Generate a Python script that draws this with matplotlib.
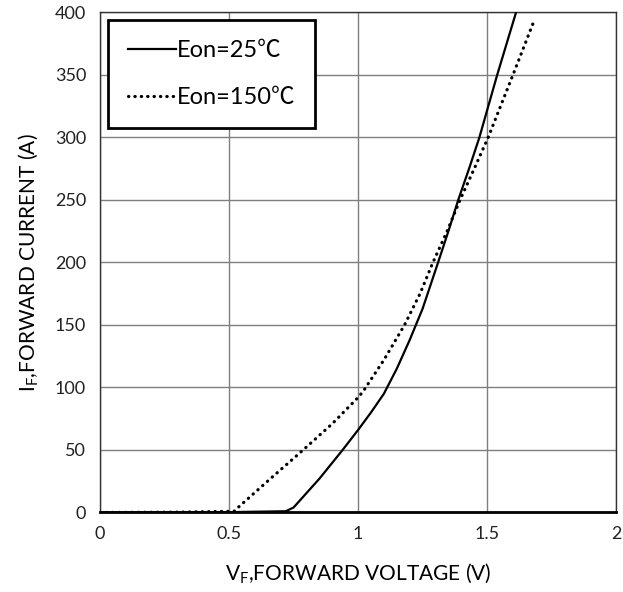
import matplotlib.pyplot as plt

# Eon=25℃ (solid)
v_25 = [0.0, 0.5, 0.72, 0.75, 0.85, 0.94, 1.0, 1.05, 1.10, 1.15, 1.20, 1.25, 1.31, 1.35, 1.388, 1.43, 1.47, 1.539, 1.612]
i_25 = [0.0, 0.3, 1.0, 4.0, 27, 50, 66, 80, 95, 115, 138, 163, 200, 225, 250, 275, 300, 350, 400]

# Eon=150℃ (dotted)
v_150 = [0.0, 0.3, 0.52, 0.535, 0.66, 0.787, 0.9, 1.0, 1.02, 1.1, 1.18, 1.24, 1.29, 1.345, 1.395, 1.45, 1.504, 1.6, 1.685]
i_150 = [0.0, 0.3, 1.0, 4.0, 27, 50, 71, 92, 97, 122, 150, 175, 200, 225, 250, 275, 300, 350, 395]

x_ticks = [0, 0.5, 1, 1.5, 2]
x_labels = ["0", "0.5", "1", "1.5", "2"]
y_ticks = list(range(0, 401, 50))

fam = ['Lato', 'Noto Sans CJK JP', 'DejaVu Sans']
plt.rcParams['font.family'] = fam
plt.rcParams['mathtext.fontset'] = 'custom'
plt.rcParams['mathtext.rm'] = 'Lato'

fig = plt.figure(figsize=(6.23, 5.92), dpi=100)
ax = fig.add_axes([0.1605, 0.1343, 0.8285, 0.8446])

ax.plot(v_25, i_25, color='black', lw=1.6, label='Eon=25℃', zorder=3)
ax.plot(v_150, i_150, color='black', lw=2.3, linestyle=(0, (0.1, 1.9)),
        dash_capstyle='round', label='Eon=150℃', zorder=3)

ax.set_xlim(0, 2)
ax.set_ylim(0, 400)
ax.set_xticks(x_ticks)
ax.set_xticklabels(x_labels)
ax.set_yticks(y_ticks)
ax.tick_params(length=0, labelsize=13, colors='#222222', pad=10)
ax.grid(True, color='#7f7f7f', lw=1)
ax.set_axisbelow(True)
for s in ax.spines.values():
    s.set_color('#333333')
    s.set_linewidth(1)
ax.spines['bottom'].set_color('black')
ax.spines['bottom'].set_linewidth(2)

ax.set_xlabel(r'V$_\mathregular{F}$,FORWARD VOLTAGE (V)', fontsize=15, labelpad=14)
ax.set_ylabel(r'I$_\mathregular{F}$,FORWARD CURRENT (A)', fontsize=15, labelpad=10)

leg = ax.legend(loc='upper left', fontsize=17, handlelength=2.0, handletextpad=0.05,
                borderpad=0.85, labelspacing=1.1, fancybox=False, framealpha=1,
                bbox_to_anchor=(0.016, 0.985), borderaxespad=0)
leg.get_frame().set_edgecolor('black')
leg.get_frame().set_linewidth(2)

fig.savefig('out.png', dpi=100)
